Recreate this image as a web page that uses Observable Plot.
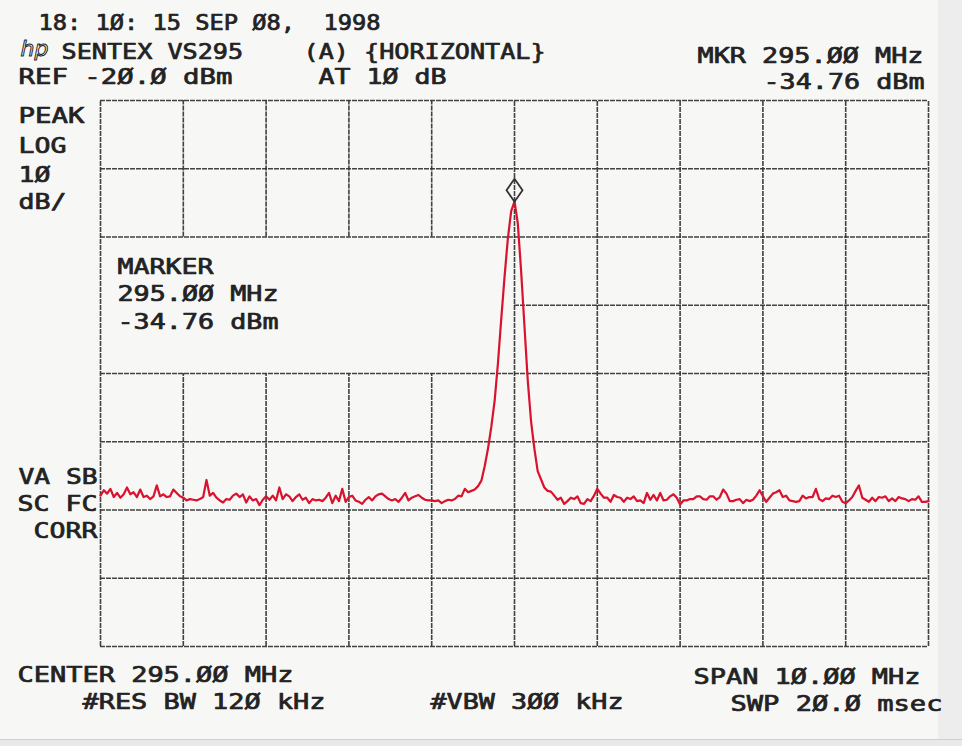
<!DOCTYPE html>
<html>
<head>
<meta charset="utf-8">
<script src="https://cdn.jsdelivr.net/npm/d3@7"></script>
<script src="https://cdn.jsdelivr.net/npm/@observablehq/plot@0.6"></script>
<style>
  html, body { margin: 0; padding: 0; background: #f7f7f6; }
  #wrap { position: relative; width: 962px; height: 746px; overflow: hidden; background: #f7f7f6; }
  #edge { position: absolute; left: 938px; top: 0; width: 24px; height: 746px; background: #ededed; }
  #bottom { position: absolute; left: 0; top: 739px; width: 962px; height: 7px; background: #e9e9e9; border-top: 1px solid #cfcfcf; }
  #wrap svg { position: absolute; left: 0; top: 0; }
</style>
</head>
<body>
<div id="wrap"><div id="edge"></div><div id="bottom"></div></div>
<script>
// ---------- data ----------
const startMHz = 290;
const stopMHz = 300;
const stepMHz = 0.04;           // sweep sample spacing
const refDBm = -20;
const bottomDBm = -100;
const markerMHz = 295.00;
const markerDBm = -34.76;

const gridMHz = [290, 291, 292, 293, 294, 295, 296, 297, 298, 299, 300];
const gridDBm = [-100, -90, -80, -70, -60, -50, -40, -30, -20];

// trace levels (dBm), one per sweep sample
const levelsDBm = [
  -77.9, -77.1, -77.6, -76.9, -78.1, -77.5, -78.2, -77.7, -76.7, -77.7,
  -77.4, -78.1, -77.0, -78.1, -77.9, -78.4, -78.0, -76.4, -78.0, -77.7,
  -78.1, -78.0, -77.0, -77.5, -78.0, -78.2, -78.6, -78.4, -78.5, -78.6,
  -78.4, -78.1, -75.6, -77.9, -77.5, -78.2, -78.6, -78.9, -78.4, -78.5,
  -77.9, -77.6, -78.1, -77.7, -78.9, -78.0, -78.6, -78.4, -79.3, -78.5,
  -78.0, -78.5, -77.9, -78.6, -76.7, -78.4, -77.7, -78.0, -78.7, -78.1,
  -77.7, -78.5, -78.2, -79.0, -78.4, -78.6, -78.5, -78.7, -78.2, -77.5,
  -79.0, -77.9, -78.7, -76.9, -78.8, -78.1, -77.9, -78.6, -78.8, -79.1,
  -78.5, -78.1, -78.6, -78.0, -77.7, -77.6, -78.0, -78.4, -78.6, -78.4,
  -78.8, -78.2, -77.5, -78.6, -78.2, -78.0, -77.8, -78.2, -78.5, -78.6,
  -78.6, -78.7, -78.6, -79.0, -78.7, -78.5, -78.6, -78.4, -77.9, -78.0,
  -76.9, -77.4, -77.2, -77.0, -76.5, -75.7,
  -73.6, -71.0, -67.8, -64.0, -58.5, -52.0, -45.8, -40.2, -36.2, -34.76,
  -38.0, -45.0, -53.0, -61.0, -67.0, -71.0, -74.3, -75.5, -76.7,
  -77.2, -77.3, -77.9, -78.5, -78.2, -79.1, -78.7, -78.2, -78.4, -78.0,
  -79.0, -79.1, -78.4, -78.7, -77.9, -76.9, -77.6, -78.2, -78.2, -78.8,
  -77.8, -78.1, -78.2, -78.8, -78.2, -78.4, -78.0, -78.7, -78.6, -79.0,
  -77.5, -78.5, -77.8, -78.6, -77.5, -78.6, -78.5, -78.0, -77.7, -78.2,
  -79.2, -78.6, -78.6, -78.4, -78.4, -78.0, -78.0, -78.4, -78.5, -78.0,
  -78.0, -78.5, -78.1, -77.0, -77.6, -78.7,
  -78.7, -78.5, -78.4, -79.0, -78.5, -78.7, -78.5, -77.9, -77.1, -78.0,
  -78.8, -78.2, -77.6, -77.4, -77.1, -78.1, -77.9, -78.6, -78.7, -78.8,
  -78.7, -77.9, -78.3, -78.1, -78.1, -76.9, -78.4, -78.7, -78.3, -78.4,
  -77.9, -78.1, -77.9, -78.8, -79.0, -78.6, -78.1, -77.2, -76.4, -78.2,
  -78.5, -78.8, -78.2, -78.7, -78.1, -78.2, -78.0, -78.7, -78.3, -78.7,
  -78.1, -78.3, -78.4, -78.7, -78.4, -78.5, -78.0, -78.8, -78.8, -78.7
];

// ---------- texts ----------
const txtDate = "18: 1Ø: 15 SEP Ø8,  1998";
const txtLogo = "hp";
const txtTitle = "SENTEX VS295    (A) {HORIZONTAL}";
const txtRef = "REF -2Ø.Ø dBm";
const txtAtten = "AT 1Ø dB";
const txtMkrFreq = "MKR 295.ØØ MHz";
const txtMkrLevel = "-34.76 dBm";
const txtMode = ["PEAK", "LOG", "1Ø", "dB/"];
const txtCorr = ["VA SB", "SC FC", "CORR"];
const txtMarkerBlock = ["MARKER", "295.ØØ MHz", "-34.76 dBm"];
const txtCenter = "CENTER 295.ØØ MHz";
const txtRbw = "#RES BW 12Ø kHz";
const txtVbw = "#VBW 3ØØ kHz";
const txtSpan = "SPAN 1Ø.ØØ MHz";
const txtSweep = "SWP 2Ø.Ø msec";

// ---------- layout ----------
const W = 962, H = 746;
const M = {top: 100, right: 34, bottom: 100, left: 100};
const ink = "#222222";
const gridInk = "#2e2e2e";
const traceInk = "#d9122d";
const fontFamily = "'DejaVu Sans Mono', 'Liberation Mono', monospace";
const widths = new Map();

function label(text, x, baseline, width, opts = {}) {
  if (width) widths.set(text, width);
  return Plot.text([text], {
    text: d => d,
    frameAnchor: "top-left",
    dx: x - M.left,
    dy: baseline - M.top,
    textAnchor: "start",
    lineAnchor: "bottom",
    fontFamily,
    fontSize: 21,
    fill: ink,
    stroke: ink,
    strokeWidth: 0.7,
    ...opts
  });
}

const tallDiamond = {
  draw(context) {
    const w = 8, h = 11.5;
    context.moveTo(0, -h);
    context.lineTo(w, 0);
    context.lineTo(0, h);
    context.lineTo(-w, 0);
    context.closePath();
  }
};

const blankedMHz = gridMHz.filter(f => f > startMHz && f < markerMHz);
const fullMHz = gridMHz.filter(f => !blankedMHz.includes(f));
const gridStyle = {stroke: gridInk, strokeWidth: 1.6, strokeOpacity: 0.9, strokeDasharray: "5 1"};

const trace = levelsDBm.map((v, i) => ({f: startMHz + i * stepMHz, v}));

const plot = Plot.plot({
  width: W,
  height: H,
  marginTop: M.top,
  marginRight: M.right,
  marginBottom: M.bottom,
  marginLeft: M.left,
  style: {background: "transparent", overflow: "visible"},
  x: {domain: [startMHz, stopMHz], axis: null},
  y: {domain: [bottomDBm, refDBm], axis: null},
  marks: [
    // graticule
    Plot.ruleX(fullMHz, {x: d => d, y1: bottomDBm, y2: refDBm, ...gridStyle}),
    Plot.ruleX(blankedMHz, {x: d => d, y1: bottomDBm, y2: -60, ...gridStyle}),
    Plot.ruleX(blankedMHz, {x: d => d, y1: -40, y2: refDBm, ...gridStyle}),
    Plot.ruleY(gridDBm.filter(v => v !== -50), {y: d => d, x1: startMHz, x2: stopMHz, ...gridStyle}),
    Plot.ruleY([-50], {y: d => d, x1: markerMHz, x2: stopMHz, ...gridStyle}),
    // trace
    Plot.line(trace, {x: "f", y: "v", stroke: traceInk, strokeWidth: 2.2, strokeLinejoin: "round"}),
    // marker
    Plot.dot([{f: markerMHz, v: markerDBm}], {x: "f", y: "v", symbol: tallDiamond, r: 8, dy: -11, fill: "none", stroke: "#333", strokeWidth: 1.8}),
    // annotations
    label(txtDate, 38, 29, 342),
    label(txtLogo, 20, 55, null, {fontFamily: "'DejaVu Sans'", fontStyle: "italic", fontSize: 22, fill: "none", stroke: ink, strokeWidth: 1}),
    label(txtTitle, 61, 58, 484),
    label(txtRef, 18, 83, 214),
    label(txtAtten, 318, 83, 128),
    label(txtMkrFreq, 697, 62, 226),
    label(txtMkrLevel, 763, 88, 160),
    label(txtMode[0], 18, 122, 66),
    label(txtMode[1], 18, 152, 48),
    label(txtMode[2], 18, 181, 32),
    label(txtMode[3], 18, 208, 48),
    label(txtCorr[0], 18, 483, 79),
    label(txtCorr[1], 17, 510, 80),
    label(txtCorr[2], 33, 537, 64),
    label(txtMarkerBlock[0], 117, 273, 96),
    label(txtMarkerBlock[1], 117, 300, 161),
    label(txtMarkerBlock[2], 117, 328, 161),
    label(txtCenter, 17, 681, 276),
    label(txtRbw, 82, 708, 243),
    label(txtVbw, 430, 708, 193),
    label(txtSpan, 693, 683, 227),
    label(txtSweep, 730, 710, 212)
  ]
});

d3.select(plot).selectAll("text").each(function () {
  const w = widths.get(this.textContent);
  if (w) {
    this.setAttribute("textLength", w);
    this.setAttribute("lengthAdjust", "spacingAndGlyphs");
  }
});

document.getElementById("wrap").appendChild(plot);
</script>
</body>
</html>
